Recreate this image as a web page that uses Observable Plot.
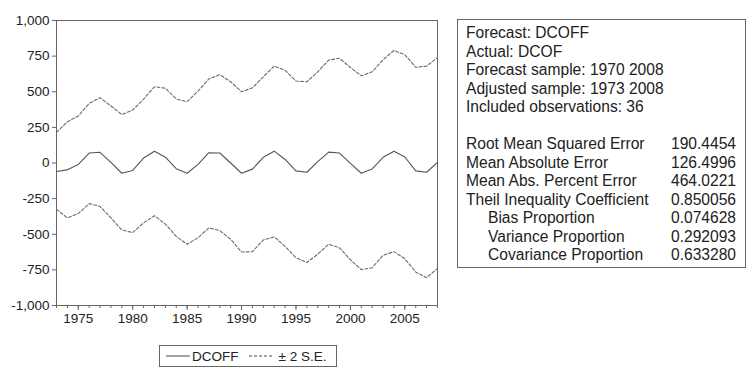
<!DOCTYPE html>
<html>
<head>
<meta charset="utf-8">
<script src="https://cdn.jsdelivr.net/npm/d3@7"></script>
<script src="https://cdn.jsdelivr.net/npm/@observablehq/plot@0.6"></script>
<style>
  body { margin: 0; background: #fff; font-family: "Liberation Sans", Arial, sans-serif; }
  #wrap { position: relative; width: 752px; height: 382px; }
  #stats { position: absolute; left: 457px; top: 19px; width: 289px; height: 249px; border: 1px solid #666; box-sizing: border-box; padding: 4px 9px 0 8px; font-size: 15.6px; line-height: 18.5px; color: #222; }
  #stats .row { display: flex; justify-content: space-between; white-space: nowrap; }
  #stats .ind { padding-left: 22px; }
  #legend { position: absolute; left: 159px; top: 345px; width: 178px; height: 22px; border: 1px solid #666; box-sizing: border-box; font-size: 13.5px; color: #222; display: flex; align-items: center; }
  #legend svg { display: block; }
</style>
</head>
<body>
<div id="wrap"></div>
<script>
const years = [1973,1974,1975,1976,1977,1978,1979,1980,1981,1982,1983,1984,1985,1986,1987,1988,1989,1990,1991,1992,1993,1994,1995,1996,1997,1998,1999,2000,2001,2002,2003,2004,2005,2006,2007,2008];
const dcoff = [-60,-48,-10,70,75,5,-72,-52,35,83,41,-40,-72,-10,72,70,0,-72,-43,40,83,25,-55,-65,10,76,70,-3,-72,-42,40,83,42,-55,-65,5];
const upperSE = [215,290,330,418,458,400,340,372,448,535,525,450,430,505,590,620,570,500,528,605,680,650,575,570,640,722,735,670,612,640,725,790,760,672,680,740];
const lowerSE = [-325,-385,-355,-285,-305,-385,-470,-488,-420,-370,-428,-515,-570,-525,-455,-475,-535,-625,-622,-540,-518,-585,-665,-698,-640,-570,-595,-680,-748,-735,-648,-622,-672,-765,-805,-740];
const yTicks = [-1000,-750,-500,-250,0,250,500,750,1000];
const xMajorTicks = [1975,1980,1985,1990,1995,2000,2005];
const legendLabels = ["DCOFF", "± 2 S.E."];
const statsHeader = ["Forecast: DCOFF","Actual: DCOF","Forecast sample: 1970 2008","Adjusted sample: 1973 2008","Included observations: 36"];
const statNames = ["Root Mean Squared Error","Mean Absolute Error","Mean Abs. Percent Error","Theil Inequality Coefficient","Bias Proportion","Variance Proportion","Covariance Proportion"];
const statValues = ["190.4454","126.4996","464.0221","0.850056","0.074628","0.292093","0.633280"];
const statIndent = [false,false,false,false,true,true,true];

const rows = years.map((y,i)=>({year:y, dcoff:dcoff[i], up:upperSE[i], lo:lowerSE[i]}));
const fmtY = d => (d < 0 ? "-" : "") + d3.format(",")(Math.abs(d));

const chart = Plot.plot({
  width: 752,
  height: 382,
  marginLeft: 56,
  marginRight: 315,
  marginTop: 20,
  marginBottom: 77,
  style: {fontFamily: "Liberation Sans, Arial, sans-serif", fontSize: "13.5px", color: "#222", background: "#fff"},
  x: {domain: [1973, 2008]},
  y: {domain: [-1000, 1000]},
  marks: [
    Plot.frame({stroke: "#666", strokeWidth: 1}),
    Plot.axisY({ticks: yTicks, tickFormat: fmtY, tickSize: 4, tickPadding: 3, label: null, stroke: "#666", fill: "#222"}),
    Plot.axisX({ticks: years, tickSize: 3, tickFormat: () => "", label: null, stroke: "#666"}),
    Plot.axisX({ticks: xMajorTicks, tickSize: 5, tickPadding: 3, tickFormat: d => String(d), label: null, stroke: "#666", fill: "#222"}),
    Plot.line(rows, {x: "year", y: "up", stroke: "#6a6a6a", strokeWidth: 1.1, strokeDasharray: "3,2"}),
    Plot.line(rows, {x: "year", y: "lo", stroke: "#6a6a6a", strokeWidth: 1.1, strokeDasharray: "3,2"}),
    Plot.line(rows, {x: "year", y: "dcoff", stroke: "#555", strokeWidth: 1.1})
  ]
});
const wrap = document.getElementById("wrap");
wrap.appendChild(chart);
chart.style.position = "absolute";
chart.style.left = "0";
chart.style.top = "0";

// stats box
const stats = document.createElement("div");
stats.id = "stats";
statsHeader.forEach(t => { const d = document.createElement("div"); d.textContent = t; stats.appendChild(d); });
const blank = document.createElement("div"); blank.innerHTML = "&nbsp;"; stats.appendChild(blank);
statNames.forEach((n,i) => {
  const r = document.createElement("div"); r.className = "row";
  const a = document.createElement("span"); a.textContent = n; if (statIndent[i]) a.className = "ind";
  const b = document.createElement("span"); b.textContent = statValues[i];
  r.appendChild(a); r.appendChild(b); stats.appendChild(r);
});
wrap.appendChild(stats);

// legend
const lg = document.createElement("div");
lg.id = "legend";
lg.innerHTML = `<svg width="26" height="10" style="margin-left:6px"><line x1="0" y1="5" x2="24" y2="5" stroke="#444" stroke-width="1"/></svg><span>${legendLabels[0]}</span><svg width="28" height="10" style="margin-left:10px"><line x1="0" y1="5" x2="24" y2="5" stroke="#444" stroke-width="1" stroke-dasharray="3,2"/></svg><span style="margin-left:2px">${legendLabels[1]}</span>`;
wrap.appendChild(lg);
</script>
</body>
</html>
